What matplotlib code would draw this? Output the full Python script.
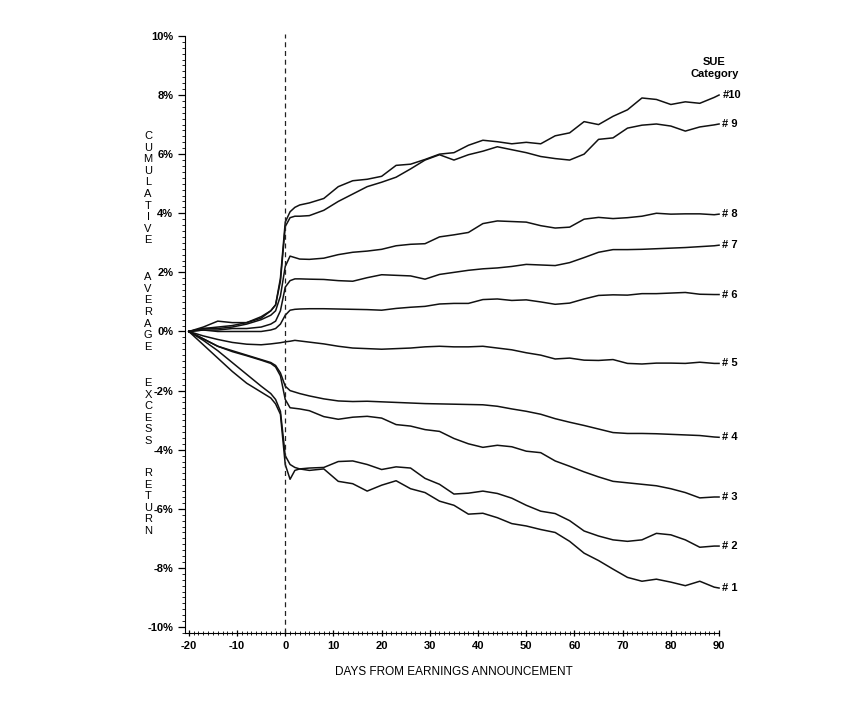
import matplotlib
matplotlib.use("Agg")
import matplotlib.pyplot as plt
from matplotlib.ticker import MultipleLocator, FuncFormatter

plt.rcParams['font.family'] = ['Liberation Sans', 'DejaVu Sans']
plt.rcParams['axes.unicode_minus'] = False

# days relative to the earnings announcement
days = [-20, -17, -14, -11, -8, -5, -3, -2, -1, 0, 1, 2, 3,
        5, 8, 11, 14, 17, 20, 23, 26, 29, 32, 35, 38, 41, 44, 47, 50,
        53, 56, 59, 62, 65, 68, 71, 74, 77, 80, 83, 86, 89, 90]

# cumulative average excess return (%) by SUE category
sue10 = [0, 0.15, 0.35, 0.3, 0.3, 0.45, 0.7, 0.9, 1.8, 3.7, 4.05, 4.2, 4.28,
         4.35, 4.5, 4.9, 5.1, 5.15, 5.25, 5.62, 5.66, 5.82, 6.0, 6.05, 6.3, 6.47, 6.42, 6.35, 6.4,
         6.35, 6.62, 6.72, 7.1, 7.0, 7.28, 7.5, 7.9, 7.85, 7.68, 7.77, 7.72, 7.92, 8.0]
sue9 = [0, 0.1, 0.15, 0.2, 0.3, 0.5, 0.7, 0.9, 1.7, 3.55, 3.85, 3.9, 3.9,
        3.92, 4.1, 4.4, 4.65, 4.9, 5.05, 5.22, 5.5, 5.8, 5.98, 5.8, 5.98, 6.1, 6.25, 6.15, 6.05,
        5.92, 5.85, 5.8, 6.0, 6.5, 6.55, 6.88, 6.98, 7.02, 6.95, 6.78, 6.92, 6.99, 7.02]
sue8 = [0, 0.1, 0.1, 0.15, 0.25, 0.4, 0.55, 0.7, 1.2, 2.2, 2.55, 2.5, 2.45,
        2.44, 2.48, 2.6, 2.68, 2.72, 2.78, 2.9, 2.95, 2.97, 3.2, 3.27, 3.35, 3.65, 3.74, 3.72, 3.7,
        3.58, 3.5, 3.53, 3.8, 3.86, 3.82, 3.85, 3.9, 4.0, 3.97, 3.98, 3.98, 3.95, 3.97]
sue7 = [0, 0.05, 0.05, 0.1, 0.1, 0.15, 0.25, 0.35, 0.7, 1.5, 1.72, 1.78, 1.78,
        1.77, 1.76, 1.72, 1.7, 1.82, 1.92, 1.9, 1.88, 1.77, 1.93, 2.0, 2.07, 2.12, 2.15, 2.2, 2.27,
        2.25, 2.23, 2.33, 2.5, 2.68, 2.77, 2.77, 2.78, 2.8, 2.82, 2.84, 2.87, 2.9, 2.92]
sue6 = [0, 0.05, 0.0, 0.0, 0.0, 0.0, 0.05, 0.1, 0.25, 0.55, 0.72, 0.75, 0.76,
        0.77, 0.77, 0.76, 0.75, 0.74, 0.72, 0.78, 0.82, 0.85, 0.93, 0.95, 0.95, 1.08, 1.1, 1.05, 1.07,
        1.0, 0.92, 0.96, 1.1, 1.22, 1.24, 1.23, 1.28, 1.28, 1.3, 1.32, 1.26, 1.25, 1.25]
sue5 = [0, -0.15, -0.27, -0.37, -0.43, -0.45, -0.42, -0.4, -0.38, -0.35, -0.33, -0.3, -0.32,
        -0.36, -0.42, -0.5, -0.56, -0.58, -0.6, -0.58, -0.56, -0.52, -0.5, -0.52, -0.52, -0.5, -0.56, -0.62, -0.72,
        -0.8, -0.93, -0.9, -0.97, -0.98, -0.95, -1.08, -1.1, -1.07, -1.07, -1.08, -1.04, -1.08, -1.08]
sue4 = [0, -0.25, -0.5, -0.65, -0.8, -0.95, -1.05, -1.15, -1.4, -1.85, -2.0, -2.05, -2.1,
        -2.18, -2.28, -2.35, -2.37, -2.36, -2.38, -2.4, -2.42, -2.44, -2.45, -2.46, -2.47, -2.48, -2.53, -2.62, -2.7,
        -2.8, -2.95, -3.07, -3.18, -3.3, -3.42, -3.45, -3.45, -3.46, -3.48, -3.5, -3.52, -3.57, -3.58]
sue3 = [0, -0.25, -0.5, -0.68, -0.82, -0.97, -1.08, -1.2, -1.5, -2.3, -2.58, -2.6, -2.62,
        -2.68, -2.88, -2.97, -2.9, -2.87, -2.93, -3.15, -3.2, -3.32, -3.38, -3.62, -3.8, -3.92, -3.85, -3.9, -4.05,
        -4.1, -4.38, -4.56, -4.75, -4.92, -5.07, -5.12, -5.17, -5.22, -5.32, -5.45, -5.63, -5.6, -5.6]
sue2 = [0, -0.3, -0.65, -1.05, -1.45, -1.85, -2.1, -2.3, -2.7, -4.2, -4.5, -4.6, -4.65,
        -4.62, -4.6, -4.4, -4.38, -4.5, -4.67, -4.58, -4.62, -4.97, -5.17, -5.5, -5.47, -5.4, -5.48, -5.64, -5.88,
        -6.08, -6.16, -6.4, -6.75, -6.92, -7.05, -7.1, -7.05, -6.83, -6.88, -7.05, -7.3, -7.26, -7.26]
sue1 = [0, -0.45, -0.9, -1.35, -1.75, -2.05, -2.25, -2.45, -2.8, -4.5, -5.0, -4.7, -4.65,
        -4.7, -4.65, -5.07, -5.15, -5.4, -5.2, -5.05, -5.32, -5.45, -5.74, -5.88, -6.18, -6.15, -6.3, -6.5, -6.58,
        -6.7, -6.8, -7.1, -7.5, -7.75, -8.04, -8.32, -8.45, -8.38, -8.48, -8.6, -8.45, -8.65, -8.68]

series = [sue10, sue9, sue8, sue7, sue6, sue5, sue4, sue3, sue2, sue1]
names = ['#10', '# 9', '# 8', '# 7', '# 6', '# 5', '# 4', '# 3', '# 2', '# 1']

fig = plt.figure(figsize=(8.66, 7.10), dpi=100)
ax = fig.add_axes([0.2136, 0.1085, 0.6184, 0.843])

for vals, name in zip(series, names):
    ax.plot(days, vals, color='#111111', lw=1.1)
    ax.text(90.7, vals[-1], name, ha='left', va='center', fontsize=8, fontweight='bold')

ax.axvline(0, color='#222222', lw=0.9, ls=(0, (4, 3)))

ax.set_xlim(-20.8, 90.3)
ax.set_ylim(-10.2, 10.05)
ax.spines['top'].set_visible(False)
ax.spines['right'].set_visible(False)
ax.spines['bottom'].set_bounds(-20.8, 90)
ax.spines['left'].set_bounds(-10.2, 10)

ax.xaxis.set_major_locator(MultipleLocator(10))
ax.xaxis.set_minor_locator(MultipleLocator(1))
ax.yaxis.set_major_locator(MultipleLocator(2))
ax.yaxis.set_minor_locator(MultipleLocator(0.2))
ax.yaxis.set_major_formatter(FuncFormatter(lambda v, p: f'{int(round(v))}%'))
ax.xaxis.set_major_formatter(FuncFormatter(lambda v, p: f'{int(round(v))}'))
ax.tick_params(axis='both', which='major', length=5, width=0.9, labelsize=8)
ax.tick_params(axis='both', which='minor', length=2.5, width=0.6)
ax.tick_params(axis='x', which='both', direction='inout')
for lab in ax.get_xticklabels() + ax.get_yticklabels():
    lab.set_fontweight('bold')

ax.text(89, 8.92, 'SUE\nCategory', ha='center', va='center', fontsize=8, fontweight='bold',
        linespacing=1.3)

fig.text(0.524, 0.053, 'DAYS FROM EARNINGS ANNOUNCEMENT', ha='center', va='center', fontsize=8.5)

words = ['CUMULATIVE', 'AVERAGE', 'EXCESS', 'RETURN']
word_y = [0.735, 0.5606, 0.4197, 0.293]
for w, wy in zip(words, word_y):
    fig.text(0.171, wy, '\n'.join(w), ha='center', va='center', fontsize=8, linespacing=1.2)

fig.savefig('out.png', dpi=100)
